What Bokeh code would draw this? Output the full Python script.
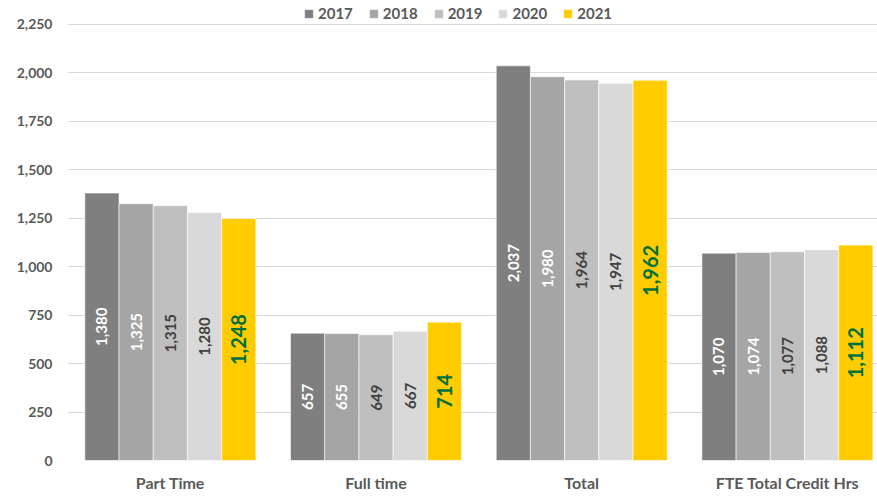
import math
from bokeh.plotting import figure
from bokeh.models import ColumnDataSource, Range1d, FixedTicker, Legend, LegendItem
from bokeh.transform import dodge
from bokeh.core.properties import value
from bokeh.embed import file_html
from bokeh.resources import INLINE

categories = ["Part Time", "Full time", "Total", "FTE Total Credit Hrs"]
years = ["2017", "2018", "2019", "2020", "2021"]
v2017 = [1380, 657, 2037, 1070]
v2018 = [1325, 655, 1980, 1074]
v2019 = [1315, 649, 1964, 1077]
v2020 = [1280, 667, 1947, 1088]
v2021 = [1248, 714, 1962, 1112]
series = [v2017, v2018, v2019, v2020, v2021]
y_ticks = [0, 250, 500, 750, 1000, 1250, 1500, 1750, 2000, 2250]

bar_colors = ["#7F7F7F", "#A5A5A5", "#BFBFBF", "#D9D9D9", "#FFCC00"]
label_colors = ["#FFFFFF", "#FFFFFF", "#404040", "#404040", "#00703C"]
label_sizes = ["15px", "15px", "15px", "15px", "20px"]

FONT = "Lato"
bar_w = 0.1663

p = figure(width=877, height=497, output_backend="svg", toolbar_location=None,
           x_range=Range1d(-0.5, 3.438), y_range=Range1d(0, 2373.8),
           min_border_left=67, min_border_right=0, min_border_top=0, min_border_bottom=37)
p.outline_line_color = None
p.background_fill_color = "white"
p.border_fill_color = "white"

p.xgrid.grid_line_color = None
p.ygrid.grid_line_color = "#D9D9D9"
p.ygrid.grid_line_width = 1
p.yaxis.ticker = FixedTicker(ticks=y_ticks)
p.yaxis.major_label_overrides = {t: f"{t:,}" for t in y_ticks}
p.xaxis.ticker = FixedTicker(ticks=list(range(len(categories))))
p.xaxis.major_label_overrides = {i: c for i, c in enumerate(categories)}

for ax in (p.xaxis, p.yaxis):
    ax.axis_line_color = None
    ax.major_tick_line_color = None
    ax.minor_tick_line_color = None
    ax.major_tick_out = 0
    ax.major_tick_in = 0
    ax.major_label_text_font = FONT
    ax.major_label_text_font_style = "bold"
    ax.major_label_text_color = "#595959"
p.yaxis.major_label_text_font_size = "14px"
p.yaxis.major_label_standoff = 15
p.xaxis.major_label_text_font_size = "16px"
p.xaxis.major_label_standoff = 12

items = []
for k, (yr, vals) in enumerate(zip(years, series)):
    src = ColumnDataSource(dict(
        x=list(range(len(categories))),
        v=vals,
        half=[v / 2 for v in vals],
        lbl=[f"{v:,}" for v in vals],
    ))
    off = (k - 2) * bar_w
    r = p.vbar(x=dodge("x", off), top="v", width=bar_w, source=src,
               fill_color=bar_colors[k], line_color="white", line_width=0.6)
    p.text(x=dodge("x", off), y="half", text="lbl", source=src, angle=math.pi / 2,
           text_align="center", text_baseline="middle",
           text_font=value(FONT), text_font_style="bold",
           text_font_size=label_sizes[k], text_color=label_colors[k])
    items.append(LegendItem(label=yr, renderers=[r]))

legend = Legend(items=items, orientation="horizontal", location=(236, 438),
                glyph_width=11, glyph_height=11, label_standoff=4, spacing=15,
                padding=0, margin=0, label_height=15,
                label_text_font=FONT, label_text_font_style="bold",
                label_text_font_size="15px", label_text_color="#595959",
                background_fill_alpha=0, border_line_alpha=0)
p.add_layout(legend)

open("out.html", "w").write(file_html(p, INLINE))
